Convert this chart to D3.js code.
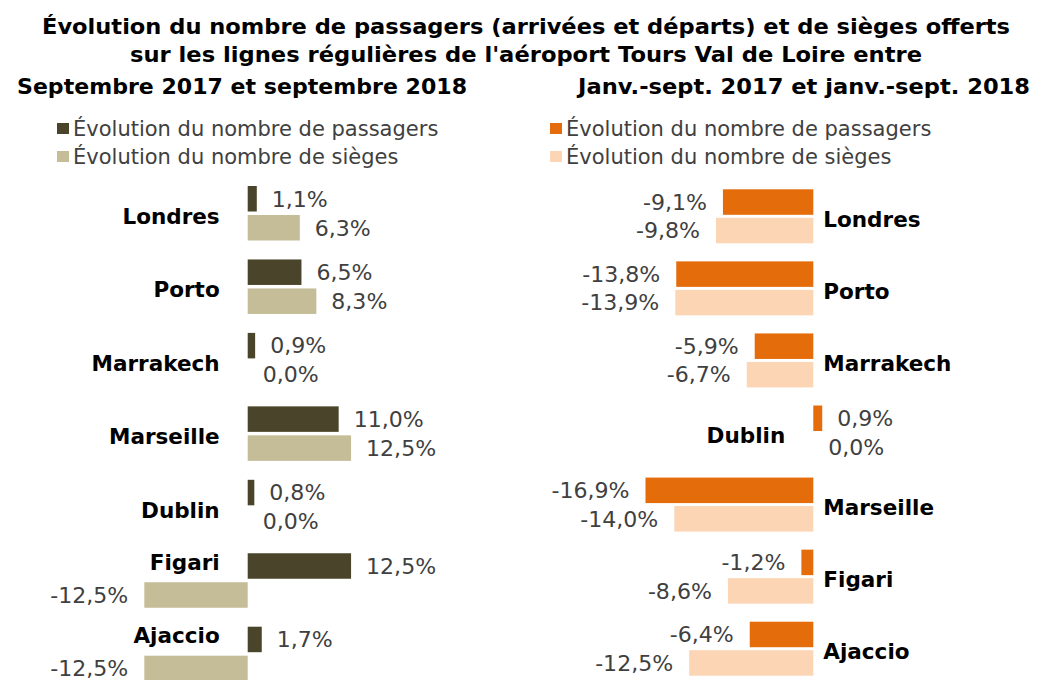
<!DOCTYPE html>
<html>
<head>
<meta charset="utf-8">
<script src="https://cdn.jsdelivr.net/npm/d3@7"></script>
<style>
  html, body { margin: 0; padding: 0; background: #ffffff; }
  svg { display: block; }
</style>
</head>
<body>
<svg id="chart" width="1041" height="680"></svg>
<script>
// ---- Data ----
const titleLines = [
  "Évolution du nombre de passagers (arrivées et départs) et de sièges offerts",
  "sur les lignes régulières de l'aéroport Tours Val de Loire entre"
];
const leftSubtitle = "Septembre 2017 et septembre 2018";
const rightSubtitle = "Janv.-sept. 2017 et janv.-sept. 2018";
const seriesNames = ["Évolution du nombre de passagers", "Évolution du nombre de sièges"];

const categoriesLeft = ["Londres", "Porto", "Marrakech", "Marseille", "Dublin", "Figari", "Ajaccio"];
const passengersLeft = [1.1, 6.5, 0.9, 11.0, 0.8, 12.5, 1.7];
const seatsLeft      = [6.3, 8.3, 0.0, 12.5, 0.0, -12.5, -12.5];

const categoriesRight = ["Londres", "Porto", "Marrakech", "Dublin", "Marseille", "Figari", "Ajaccio"];
const passengersRight = [-9.1, -13.8, -5.9, 0.9, -16.9, -1.2, -6.4];
const seatsRight      = [-9.8, -13.9, -6.7, 0.0, -14.0, -8.6, -12.5];

// ---- Styles / layout ----
const FONT = "'DejaVu Sans', Verdana, sans-serif";
const svg = d3.select("#chart");
const locale = d3.formatLocale({decimal: ",", thousands: " ", grouping: [3], currency: ["", "€"], minus: "-"});
const fmt = v => locale.format(".1f")(v) + "%";

// widen DejaVu glyphs a little towards Verdana's proportions
function widen(sel, factor) {
  sel.each(function() {
    const len = this.getComputedTextLength();
    d3.select(this).attr("textLength", len * factor).attr("lengthAdjust", "spacingAndGlyphs");
  });
}

// Title
const titleWidths = [968, 792];
svg.append("g").selectAll("text").data(titleLines).join("text")
  .attr("x", 526).attr("y", (d, i) => 34 + i * 28)
  .attr("text-anchor", "middle")
  .attr("font-family", FONT).attr("font-weight", "bold").attr("font-size", 20.5)
  .attr("fill", "#000").text(d => d)
  .attr("textLength", (d, i) => titleWidths[i]).attr("lengthAdjust", "spacingAndGlyphs");

const panels = [
  {
    subtitle: leftSubtitle, subX: 17, subW: 450,
    cats: categoriesLeft, pass: passengersLeft, seats: seatsLeft,
    colors: ["#4a452a", "#c4bd97"],
    zero: 247.7, k: 8.27, top: 186, step: 73.45, inner: 29, barH: 25.5,
    legendX: 57
  },
  {
    subtitle: rightSubtitle, subX: 578, subW: 452,
    cats: categoriesRight, pass: passengersRight, seats: seatsRight,
    colors: ["#e46c0a", "#fcd5b5"],
    zero: 813.3, k: 9.93, top: 189.3, step: 72.07, inner: 28.5, barH: 25.5,
    legendX: 550
  }
];

panels.forEach(p => {
  const g = svg.append("g");

  // subtitle
  g.append("text").attr("x", p.subX).attr("y", 94)
    .attr("font-family", FONT).attr("font-weight", "bold").attr("font-size", 20.5)
    .attr("fill", "#000").text(p.subtitle)
    .attr("textLength", p.subW).attr("lengthAdjust", "spacingAndGlyphs");

  // legend
  const lg = g.append("g");
  seriesNames.forEach((name, i) => {
    lg.append("rect").attr("x", p.legendX).attr("y", 123 + i * 28)
      .attr("width", 12).attr("height", 11).attr("fill", p.colors[i]);
    lg.append("text").attr("x", p.legendX + 16).attr("y", 136 + i * 28)
      .attr("font-family", FONT).attr("font-size", 21).attr("fill", "#404040")
      .text(name);
  });

  // scales
  const x = d3.scaleLinear().domain([-20, 20])
    .range([p.zero - 20 * p.k, p.zero + 20 * p.k]);
  const bandW = p.inner + p.barH;
  const pin = 1 - bandW / p.step;
  const y = d3.scaleBand().domain(p.cats)
    .range([p.top, p.top + (p.cats.length - pin) * p.step])
    .paddingInner(pin).paddingOuter(0);
  const sub = d3.scaleBand().domain([0, 1])
    .range([0, y.bandwidth()])
    .paddingInner(1 - p.barH / p.inner).paddingOuter(0);

  const rows = p.cats.map((c, i) => ({cat: c, vals: [p.pass[i], p.seats[i]]}));

  const rg = g.selectAll("g.row").data(rows).join("g")
    .attr("class", "row")
    .attr("transform", d => `translate(0,${y(d.cat)})`);

  const cells = rg.selectAll("g.cell")
    .data(d => d.vals.map((v, s) => ({v, s})))
    .join("g").attr("class", "cell");

  cells.append("rect")
    .attr("x", d => x(Math.min(0, d.v)))
    .attr("y", d => sub(d.s))
    .attr("width", d => Math.abs(x(d.v) - x(0)))
    .attr("height", sub.bandwidth())
    .attr("fill", d => p.colors[d.s]);

  cells.append("text")
    .attr("x", d => d.v < 0 ? x(d.v) - 16 : x(d.v) + 15)
    .attr("y", d => sub(d.s) + sub.bandwidth() / 2)
    .attr("dy", "0.37em")
    .attr("text-anchor", d => d.v < 0 ? "end" : "start")
    .attr("font-family", FONT).attr("font-size", 21).attr("fill", "#404040")
    .text(d => fmt(d.v))
    .call(widen, 1.05);

  // category labels: opposite side of passenger bar; if a bar reaches the label
  // side, align the label with the passenger row instead of the band centre
  rg.append("text")
    .attr("x", d => d.vals[0] >= 0 ? x(0) - 28 : x(0) + 10)
    .attr("text-anchor", d => d.vals[0] >= 0 ? "end" : "start")
    .attr("y", d => {
      const leftSide = d.vals[0] >= 0;
      const clash = d.vals.some(v => leftSide ? v < 0 : v > 0);
      return clash ? sub(0) + sub.bandwidth() / 2 - 4 : y.bandwidth() / 2 + 3;
    })
    .attr("dy", "0.37em")
    .attr("font-family", FONT).attr("font-weight", "bold").attr("font-size", 20.5)
    .attr("fill", "#000")
    .text(d => d.cat)
    .call(widen, 1.05);
});
</script>
</body>
</html>
